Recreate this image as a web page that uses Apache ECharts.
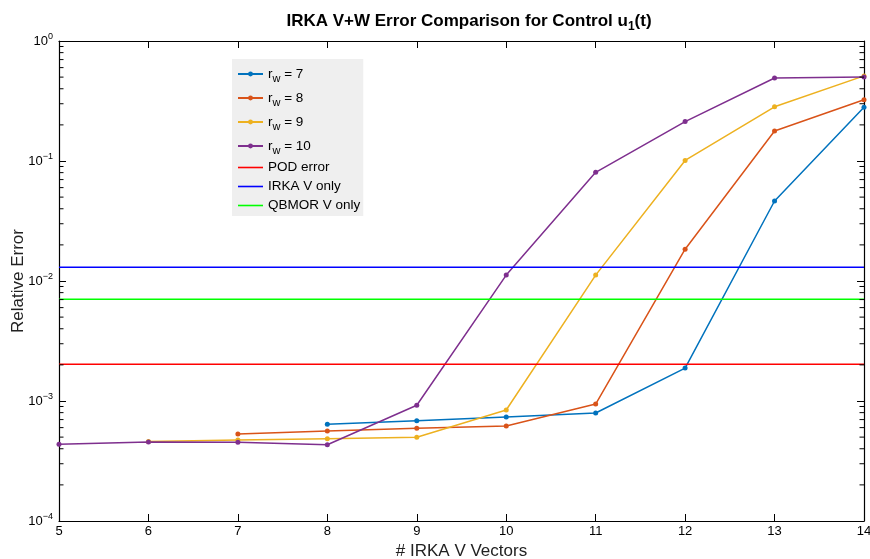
<!DOCTYPE html>
<html>
<head>
<meta charset="utf-8">
<script src="https://cdn.jsdelivr.net/npm/echarts@6/dist/echarts.min.js"></script>
<style>html,body{margin:0;padding:0;background:#fff;}#c{width:870px;height:559px;}</style>
</head>
<body>
<div id="c"></div>
<script>
// ---- data ----
var xTicks = [5, 6, 7, 8, 9, 10, 11, 12, 13, 14];
var xRw7 = [8, 9, 10, 11, 12, 13, 14];
var yRw7 = [6.40e-4, 6.85e-4, 7.36e-4, 7.94e-4, 1.88e-3, 0.0464, 0.280];
var xRw8 = [7, 8, 9, 10, 11, 12, 13, 14];
var yRw8 = [5.31e-4, 5.62e-4, 5.92e-4, 6.19e-4, 9.44e-4, 0.0184, 0.178, 0.324];
var xRw9 = [6, 7, 8, 9, 10, 11, 12, 13, 14];
var yRw9 = [4.60e-4, 4.73e-4, 4.85e-4, 4.98e-4, 8.41e-4, 0.0112, 0.101, 0.283, 0.512];
var xRw10 = [5, 6, 7, 8, 9, 10, 11, 12, 13, 14];
var yRw10 = [4.36e-4, 4.55e-4, 4.53e-4, 4.32e-4, 9.21e-4, 0.0112, 0.0805, 0.213, 0.492, 0.500];
var podError = 0.00202;
var irkaVOnly = 0.0130;
var qbmorVOnly = 0.00704;
var seriesNames = ['r{sub|w} = 7', 'r{sub|w} = 8', 'r{sub|w} = 9', 'r{sub|w} = 10', 'POD error', 'IRKA V only', 'QBMOR V only'];
var yMinor = [];
[1e-4, 1e-3, 1e-2, 1e-1].forEach(function (d) { for (var k = 2; k <= 9; k++) yMinor.push(k * d); });

function pairs(xs, ys) { return xs.map(function (x, i) { return [x, ys[i]]; }); }
function hline(v) { return [[xTicks[0], v], [xTicks[xTicks.length - 1], v]]; }

var FONT = '"Liberation Sans", Arial, Helvetica, sans-serif';
var colors = ['#0072BD', '#D95319', '#EDB120', '#7E2F8E', '#FF0000', '#0000FF', '#00FF00'];
var LINE_ICON = 'path://M0,0 L25,0 L25,1.6 L0,1.6 Z';

function lineSeries(name, data, color, withSymbol) {
  return {
    name: name, type: 'line', data: data,
    xAxisIndex: 0, yAxisIndex: 0,
    symbol: withSymbol ? 'circle' : 'none', symbolSize: 5, showSymbol: withSymbol,
    lineStyle: { color: color, width: 1.5 },
    itemStyle: { color: color },
    animation: false, z: 3
  };
}

var chart = echarts.init(document.getElementById('c'), null, { renderer: 'canvas' });
var option = {
  animation: false,
  backgroundColor: '#fff',
  title: {
    text: 'IRKA V+W Error Comparison for Control u{sub|1}(t)',
    left: 464, top: 5, textAlign: 'center',
    textStyle: {
      fontFamily: FONT, fontSize: 17, fontWeight: 'bold', color: '#000',
      rich: { sub: { fontSize: 12, fontWeight: 'bold', fontFamily: FONT, color: '#000', padding: [11, 0, 0, 0] } }
    }
  },
  grid: { left: 59, right: 6, top: 41, bottom: 38, containLabel: false, outerBoundsMode: 'none' },
  legend: {
    data: seriesNames.map(function (n, i) {
      return i < 4 ? { name: n } : { name: n, icon: LINE_ICON };
    }),
    orient: 'vertical', left: 232, top: 59,
    backgroundColor: '#efefef',
    padding: [5, 3, 3, 5],
    itemGap: 4, itemWidth: 25, itemHeight: 6,
    textStyle: {
      fontFamily: FONT, fontSize: 13.5, color: '#000', lineHeight: 15,
      rich: { sub: { fontSize: 11, fontFamily: FONT, color: '#000', lineHeight: 12, padding: [9, 0, 0, 0] } }
    }
  },
  xAxis: [{
    type: 'value', min: 5, max: 14, interval: 1, position: 'bottom',
    name: '# IRKA V Vectors', nameLocation: 'middle', nameGap: 20,
    nameTextStyle: { fontFamily: FONT, fontSize: 17, color: '#222' },
    axisLine: { lineStyle: { color: '#000', width: 1.2 } },
    axisTick: { inside: true, length: 7, lineStyle: { color: '#000' } },
    axisLabel: { fontFamily: FONT, fontSize: 13, color: '#000', margin: 4 },
    splitLine: { show: false }
  }, {
    type: 'value', min: 5, max: 14, interval: 1, position: 'top',
    axisLine: { lineStyle: { color: '#000', width: 1.2 } },
    axisTick: { inside: true, length: 7, lineStyle: { color: '#000' } },
    axisLabel: { show: false }, splitLine: { show: false }
  }],
  yAxis: [{
    type: 'log', logBase: 10, min: 1e-4, max: 1, position: 'left',
    name: 'Relative Error', nameLocation: 'middle', nameGap: 32, nameMoveOverlap: false,
    nameTextStyle: { fontFamily: FONT, fontSize: 17, color: '#222' },
    axisLine: { lineStyle: { color: '#000', width: 1.2 } },
    axisTick: { inside: true, length: 7, lineStyle: { color: '#000' } },
    axisLabel: {
      fontFamily: FONT, fontSize: 13, color: '#000', margin: 6,
      formatter: function (v) { return '10{sup|' + String(Math.round(Math.log10(v))).replace('-', '\u2212') + '}'; },
      rich: { sup: { fontSize: 9, fontFamily: FONT, color: '#000', padding: [0, 0, 9, 0] } }
    },
    splitLine: { show: false }
  }, {
    type: 'log', logBase: 10, min: 1e-4, max: 1, position: 'right',
    axisLine: { lineStyle: { color: '#000', width: 1.2 } },
    axisTick: { inside: true, length: 7, lineStyle: { color: '#000' } },
    axisLabel: { show: false }, splitLine: { show: false }
  }],
  series: [
    lineSeries(seriesNames[0], pairs(xRw7, yRw7), colors[0], true),
    lineSeries(seriesNames[1], pairs(xRw8, yRw8), colors[1], true),
    lineSeries(seriesNames[2], pairs(xRw9, yRw9), colors[2], true),
    lineSeries(seriesNames[3], pairs(xRw10, yRw10), colors[3], true),
    lineSeries(seriesNames[4], hline(podError), colors[4], false),
    lineSeries(seriesNames[5], hline(irkaVOnly), colors[5], false),
    lineSeries(seriesNames[6], hline(qbmorVOnly), colors[6], false),
    {
      type: 'custom', name: 'minorTicks', silent: true, z: 5,
      xAxisIndex: 0, yAxisIndex: 0,
      data: yMinor.map(function (v) { return [xTicks[0], v]; }),
      renderItem: function (params, api) {
        var v = api.value(1);
        var pl = api.coord([xTicks[0], v]);
        var pr = api.coord([xTicks[xTicks.length - 1], v]);
        return {
          type: 'group', children: [
            { type: 'line', shape: { x1: pl[0], y1: pl[1], x2: pl[0] + 4.5, y2: pl[1] }, style: { stroke: '#000', lineWidth: 1 } },
            { type: 'line', shape: { x1: pr[0], y1: pr[1], x2: pr[0] - 4.5, y2: pr[1] }, style: { stroke: '#000', lineWidth: 1 } }
          ]
        };
      }
    }
  ]
};
chart.setOption(option);
</script>
</body>
</html>
